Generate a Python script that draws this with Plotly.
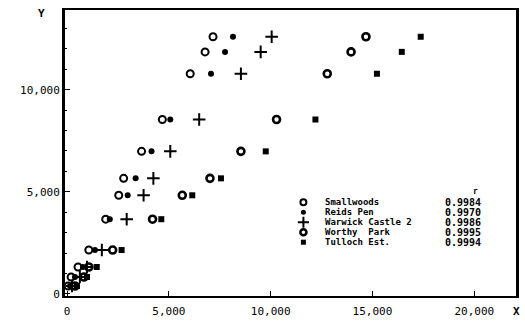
import plotly.graph_objects as go

# ---- data ----
y_levels = [390, 830, 1320, 2150, 3660, 4830, 5660, 6980, 8540, 10780, 11850, 12590]
smallwoods_x = [50, 200, 540, 1070, 1900, 2540, 2780, 3660, 4680, 6050, 6780, 7170]
reids_x = [150, 390, 780, 1370, 2100, 2980, 3370, 4150, 5070, 7070, 7760, 8150]
warwick_x = [240, 630, 980, 1710, 2930, 3760, 4240, 5070, 6490, 8540, 9510, 10050]
worthy_x = [390, 830, 1070, 2240, 4200, 5660, 7020, 8540, 10290, 12780, 13950, 14680]
tulloch_x = [490, 980, 1460, 2680, 4630, 6150, 7560, 9760, 12200, 15220, 16440, 17370]

names = ["Smallwoods", "Reids Pen", "Warwick Castle 2", "Worthy  Park", "Tulloch Est."]
r_values = ["0.9984", "0.9970", "0.9986", "0.9995", "0.9994"]
x_ticks = [0, 5000, 10000, 15000, 20000]
x_tick_labels = ["0", "5,000", "10,000", "15,000", "20,000"]
y_ticks = [0, 5000, 10000]
y_tick_labels = ["0", "5,000", "10,000"]

series_x = [smallwoods_x, reids_x, warwick_x, worthy_x, tulloch_x]
symbols = ["circle-open", "circle", "cross-thin-open", "circle-open", "square"]
sizes = [7, 6, 9, 7, 6]
lws = [2, 0, 2, 2.6, 0]

W, H = 525, 324
L, R, T, B = 65, 6, 10, 27
pw, ph = W - L - R, H - T - B

def px(x):
    return (x - L) / pw

def py(y):
    return (H - B - y) / ph

fig = go.Figure()
for xs, nm, sym, sz, lw in zip(series_x, names, symbols, sizes, lws):
    fig.add_trace(go.Scatter(
        x=xs, y=y_levels, mode="markers", name=nm, showlegend=False,
        marker=dict(symbol=sym, size=sz, color="black",
                    line=dict(color="black", width=lw)),
    ))

# legend key drawn on an overlay axis
leg_rows = [203, 213, 223, 233, 243]
for i, (nm, sym, sz, lw) in enumerate(zip(names, symbols, sizes, lws)):
    fig.add_trace(go.Scatter(
        x=[px(305)], y=[py(leg_rows[i])], xaxis="x2", yaxis="y2",
        mode="markers", showlegend=False, hoverinfo="skip",
        marker=dict(symbol=sym, size=sz - 1, color="black",
                    line=dict(color="black", width=lw)),
    ))

font_mono = "DejaVu Sans Mono"
annotations = []
for i, (nm, rv) in enumerate(zip(names, r_values)):
    annotations.append(dict(x=px(325), y=py(leg_rows[i]), xref="paper", yref="paper",
                            text="<b>%s</b>" % nm, showarrow=False, xanchor="left",
                            yanchor="middle", font=dict(family=font_mono, size=9, color="black")))
    annotations.append(dict(x=px(446), y=py(leg_rows[i]), xref="paper", yref="paper",
                            text="<b>%s</b>" % rv, showarrow=False, xanchor="left",
                            yanchor="middle", font=dict(family=font_mono, size=10, color="black")))
annotations.append(dict(x=px(478), y=py(192), xref="paper", yref="paper", text="<b>r</b>",
                        showarrow=False, xanchor="center", yanchor="middle",
                        font=dict(family=font_mono, size=8, color="black")))
annotations.append(dict(x=px(519), y=py(313), xref="paper", yref="paper", text="<b>X</b>",
                        showarrow=False, xanchor="center", yanchor="middle",
                        font=dict(family=font_mono, size=11, color="black")))
annotations.append(dict(x=px(41), y=py(14), xref="paper", yref="paper", text="<b>Y</b>",
                        showarrow=False, xanchor="center", yanchor="middle",
                        font=dict(family=font_mono, size=11, color="black")))

fig.update_layout(
    width=W, height=H,
    margin=dict(l=L, r=R, t=T, b=B, pad=0),
    paper_bgcolor="white", plot_bgcolor="white",
    showlegend=False,
    annotations=annotations,
    xaxis=dict(range=[-100, 22050], tickvals=x_ticks, ticktext=x_tick_labels,
               showgrid=False, zeroline=False, showline=True, linecolor="black",
               linewidth=1.5, mirror=True, ticks="inside", ticklen=5, tickcolor="black",
               ticklabelstandoff=4,
               tickfont=dict(family=font_mono, size=11, color="black")),
    yaxis=dict(range=[-100, 13900], tickvals=y_ticks, ticktext=y_tick_labels,
               showgrid=False, zeroline=False, showline=True, linecolor="black",
               linewidth=3, mirror=True, ticks="inside", ticklen=5, tickcolor="black",
               tickfont=dict(family=font_mono, size=11, color="black"),
               minor=dict(dtick=1000, ticks="inside", ticklen=2, tickcolor="black")),
    xaxis2=dict(range=[0, 1], overlaying="x", visible=False, fixedrange=True),
    yaxis2=dict(range=[0, 1], overlaying="y", visible=False, fixedrange=True),
)

fig.write_html("out.html")
